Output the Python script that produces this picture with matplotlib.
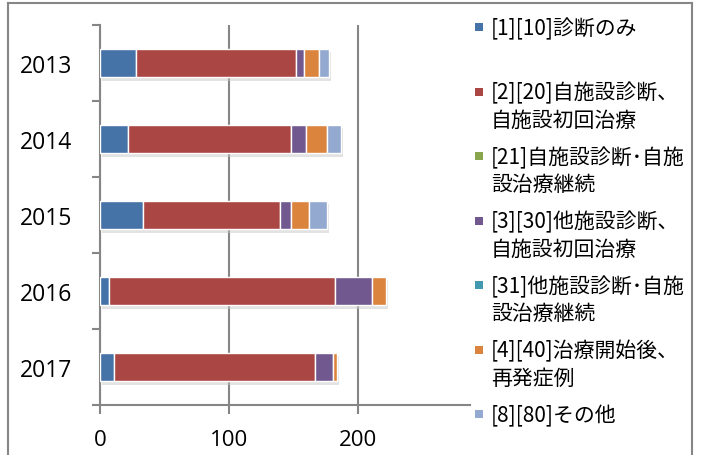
import matplotlib
matplotlib.use("Agg")
import matplotlib.pyplot as plt
import matplotlib.patheffects as pe
from matplotlib.patches import Rectangle
from matplotlib.lines import Line2D
from matplotlib.ticker import FixedLocator
import numpy as np

plt.rcParams['font.family'] = ['Noto Sans CJK JP', 'DejaVu Sans']

years = ["2013", "2014", "2015", "2016", "2017"]
series_names = [
    "[1][10]診断のみ",
    "[2][20]自施設診断、\n自施設初回治療",
    "[21]自施設診断･自施\n設治療継続",
    "[3][30]他施設診断、\n自施設初回治療",
    "[31]他施設診断･自施\n設治療継続",
    "[4][40]治療開始後、\n再発症例",
    "[8][80]その他",
]
s10 = [28, 22, 33, 7, 11]
s20 = [124, 126, 107, 175, 156]
s21 = [0, 0, 0, 0, 0]
s30 = [6, 12, 8, 29, 14]
s31 = [0, 0, 0, 0, 0]
s40 = [12, 16, 14, 11, 3]
s80 = [8, 11, 14, 0, 0]
series_values = [s10, s20, s21, s30, s31, s40, s80]
colors = ["#4572A7", "#AA4643", "#89A54E", "#71588F", "#4198AF", "#DB843D", "#93A9CF"]
xticks = [0, 100, 200]

W, H = 704, 456
fig = plt.figure(figsize=(W / 100, H / 100), dpi=100)

def fx(px):
    return px / W

def fy(py):
    return 1 - py / H

# axes: left 100px, right 470px, top 26px, bottom 406px
ax = fig.add_axes([fx(100), fy(406), fx(470) - fx(100), fy(26) - fy(406)])

gray = "#868686"
ypos = np.arange(len(years))
left = np.zeros(len(years))
shadow = [pe.SimplePatchShadow(offset=(1.2, -2.5), shadow_rgbFace="#c8c8c8", alpha=0.5), pe.Normal()]
for vals, col in zip(series_values, colors):
    vals = np.array(vals, dtype=float)
    bars = ax.barh(ypos, vals, left=left, height=0.38, color=col,
                   edgecolor="white", linewidth=1.0, zorder=3)
    for b, v in zip(bars, vals):
        if v > 0:
            b.set_path_effects(shadow)
        else:
            b.set_visible(False)
    left += vals

ax.set_xlim(0, 287)
ax.set_ylim(len(years) - 0.5, -0.5)
ax.set_xticks(xticks)
ax.set_xticklabels([str(t) for t in xticks])
ax.set_yticks(ypos)
ax.set_yticklabels(years)
ax.yaxis.set_minor_locator(FixedLocator(np.arange(-0.5, len(years), 1.0)))

for s in ["top", "right"]:
    ax.spines[s].set_visible(False)
for s in ["left", "bottom"]:
    ax.spines[s].set_color(gray)
    ax.spines[s].set_linewidth(1.5)

ax.xaxis.grid(True, color=gray, linewidth=1.5, zorder=0)
ax.set_axisbelow(True)

ax.tick_params(axis="x", which="major", length=6.5, width=1.5, color=gray,
               labelsize=16, pad=11)
ax.tick_params(axis="y", which="major", length=0, labelsize=16.5, pad=20)
ax.tick_params(axis="y", which="minor", length=6, width=1.5, color=gray)
for lab in ax.get_xticklabels() + ax.get_yticklabels():
    lab.set_fontfamily(["Open Sans", "DejaVu Sans"])
    lab.set_color("#000000")

# legend drawn manually (Excel-like layout)
for i, (name, col) in enumerate(zip(series_names, colors)):
    yc = 28 + 64.5 * i
    fig.patches.append(Rectangle((fx(475), fy(yc + 4)), fx(8), 8 / H,
                                 transform=fig.transFigure, facecolor=col,
                                 edgecolor="none"))
    for j, line in enumerate(name.split("\n")):
        fig.text(fx(491), fy(yc + 1 + 27 * j), line, fontsize=15, va="center",
                 ha="left", color="#000000")

# outer chart frame
frame_kw = dict(color=gray, linewidth=1.5, transform=fig.transFigure)
fig.lines.append(Line2D([fx(8), fx(692)], [fy(3.5), fy(3.5)], **frame_kw))
fig.lines.append(Line2D([fx(8), fx(8)], [fy(3.5), 0], **frame_kw))
fig.lines.append(Line2D([fx(692), fx(692)], [fy(3.5), 0], **frame_kw))

fig.savefig("out.png", dpi=100)
